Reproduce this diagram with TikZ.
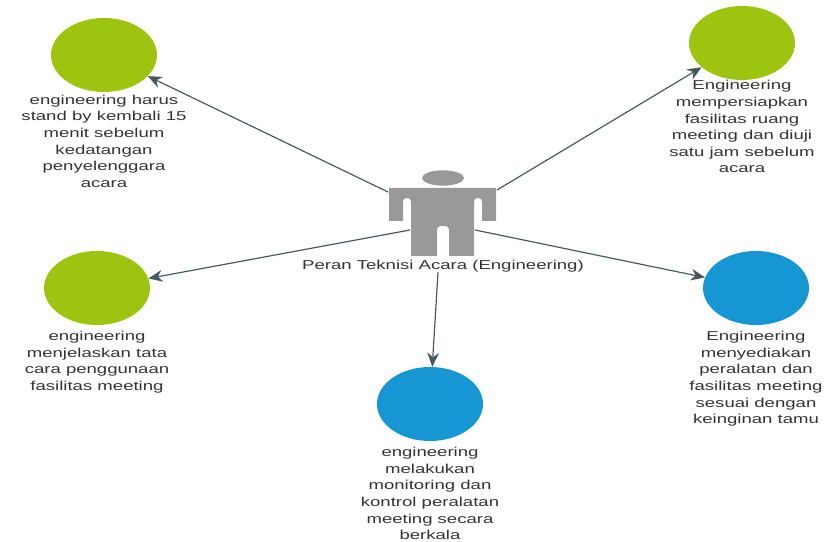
\documentclass[tikz,border=0pt]{standalone}
\usepackage{fontspec}
\setmainfont[FakeStretch=1.44]{Liberation Sans}
\usetikzlibrary{positioning,shapes.geometric,arrows.meta}
\definecolor{hijau}{HTML}{9DC40F}
\definecolor{biru}{HTML}{1696D2}
\definecolor{abu}{HTML}{999999}
\definecolor{panah}{HTML}{46575E}
\definecolor{tulis}{HTML}{333333}
\tikzset{
  bulat/.style={ellipse,minimum width=3.18cm,minimum height=2.22cm,inner sep=0pt},
  teks/.style={align=center,inner sep=0pt,text=tulis,font=\fontsize{11}{14.2}\selectfont},
  panahan/.style={draw=panah,line width=1pt,-{Stealth[length=12pt,width=10pt]}}
}
\begin{document}
\begin{tikzpicture}[x=0.03cm,y=-0.03cm]
            \useasboundingbox (0,0) rectangle (828,542);
            \node [bulat,fill=hijau] (tunggu) at (104,55) {};
            \node [bulat,fill=hijau] (siap) at (742,43) {};
            \node [bulat,fill=hijau] (jelas) at (97,288) {};
            \node [bulat,fill=biru] (kontrol) at (430,404) {};
            \node [bulat,fill=biru] (sedia) at (756,288) {};
            \node [teks,below=2pt of tunggu] (teksTunggu) {engineering harus\\stand by kembali 15\\menit sebelum\\kedatangan\\penyelenggara\\acara};
            \node [teks,below=0pt of siap] (teksSiap) {Engineering\\mempersiapkan\\fasilitas ruang\\meeting dan diuji\\satu jam sebelum\\acara};
            \node [teks,below=5pt of jelas] (teksJelas) {engineering\\menjelaskan tata\\cara penggunaan\\fasilitas meeting};
            \node [teks,below=5pt of kontrol] (teksKontrol) {engineering\\melakukan\\monitoring dan\\kontrol peralatan\\meeting secara\\berkala};
            \node [teks,below=5pt of sedia] (teksSedia) {Engineering\\menyediakan\\peralatan dan\\fasilitas meeting\\sesuai dengan\\keinginan tamu};
            % orang di tengah
            \fill [abu] (443,178) ellipse [x radius=0.63cm,y radius=0.23cm];
            \fill [abu] (389,188) -- (496,188) -- (496,221) -- (482,221)
                [rounded corners=3pt] -- (482,198) -- (474,198) [sharp corners] -- (474,256) -- (449,256)
                [rounded corners=3pt] -- (449,226) -- (437,226) [sharp corners] -- (437,256) -- (411,256)
                [rounded corners=3pt] -- (411,198) -- (403,198) [sharp corners] -- (403,221) -- (389,221) -- cycle;
            \node [teks,anchor=center] (peran) at (443,266) {Peran Teknisi Acara (Engineering)};
            \coordinate (kiriAtas) at (388,192);
            \coordinate (kananAtas) at (497,190);
            \coordinate (kiriBawah) at (410,230);
            \coordinate (kananBawah) at (475,230);
            \draw [panahan] (kiriAtas) -- (tunggu);
            \draw [panahan] (kananAtas) -- (siap);
            \draw [panahan] (kiriBawah) -- (jelas);
            \draw [panahan] (kananBawah) -- (sedia);
            \draw [panahan] (peran.south -| 438,0) -- (kontrol);
        \end{tikzpicture}
\end{document}
